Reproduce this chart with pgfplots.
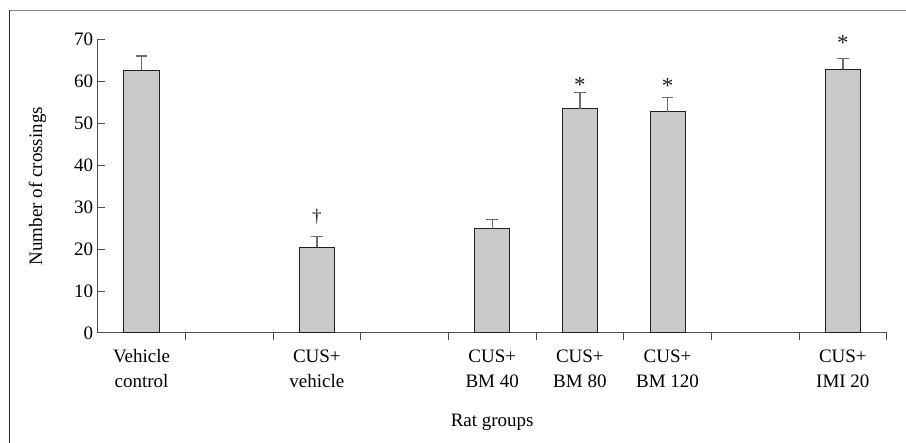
\documentclass[border=0pt]{standalone}
\usepackage{fontspec}
\setmainfont{Liberation Serif}
\usepackage{pgfplots}
\pgfplotsset{compat=1.18}
\definecolor{barfill}{HTML}{C8C9CB}
\definecolor{bardraw}{HTML}{231F20}
\definecolor{axisgray}{HTML}{4D4D4F}
\definecolor{errgray}{HTML}{6D6E71}
\definecolor{framegray}{HTML}{8A8A8A}
\newcommand{\chartfont}{\fontsize{19}{25}\selectfont}
\begin{document}
\begin{tikzpicture}
\useasboundingbox (-97.7pt,-110pt) rectangle (808.3pt,333pt);
\draw[framegray, line width=1.2pt] (-88.4pt,322.4pt) -- (808.3pt,322.4pt);
\draw[bardraw, line width=1pt] (-88.4pt,323pt) -- (-88.4pt,-110pt);
\begin{axis}[
  at={(0pt,0pt)}, anchor=south west,
  scale only axis,
  width=789pt, height=293.7pt,
  xmin=0, xmax=9, ymin=0, ymax=70,
  axis x line=bottom, axis y line=left,
  axis line style={axisgray, line width=1pt, -},
  every tick/.style={axisgray, line width=1pt},
  xtick={1,2,...,9}, xticklabels={},
  xtick align=outside,
  major tick length=7.5pt,
  extra x ticks={0.5,2.5,4.5,5.5,6.5,8.5},
  extra x tick labels={Vehicle\\control, CUS+\\vehicle, CUS+\\BM 40, CUS+\\BM 80, CUS+\\BM 120, CUS+\\IMI 20},
  extra x tick style={major tick length=0pt, xticklabel style={align=center, yshift=-13pt}},
  ytick={0,10,...,70},
  ytick align=inside,
  /pgf/number format/assume math mode=true,
  tick label style={font=\chartfont},
  yticklabel style={xshift=-1pt},
  label style={font=\chartfont},
  ylabel={Number of crossings},
  xlabel={Rat groups},
  ylabel style={at={(axis description cs:-0.0763,0.5)}, anchor=center, rotate=0},
  xlabel style={at={(axis description cs:0.5,-0.305)}, anchor=center},
  clip=false,
]
\addplot[ybar, bar width=0.4, fill=barfill, draw=bardraw, line width=1pt,
  error bars/.cd, y dir=plus, y explicit,
  error bar style={errgray, line width=1.3pt},
  error mark options={rotate=90, errgray, line width=1.3pt, mark size=5.7pt}]
  coordinates {
  (0.5,62.6) +- (0,3.4)
  (2.5,20.4) +- (0,2.55)
  (4.5,24.9) +- (0,2.1)
  (5.5,53.5) +- (0,3.8)
  (6.5,52.7) +- (0,3.4)
  (8.5,62.9) +- (0,2.6)
  };
\node[font=\chartfont, anchor=base, yshift=-5pt, text=bardraw] at (axis cs:2.5,27.6) {†};
\node[font=\fontsize{23}{25}\selectfont, anchor=base, yshift=-11.5pt, text=bardraw] at (axis cs:5.5,60.1) {*};
\node[font=\fontsize{23}{25}\selectfont, anchor=base, yshift=-11.5pt, text=bardraw] at (axis cs:6.5,59.8) {*};
\node[font=\fontsize{23}{25}\selectfont, anchor=base, yshift=-11.5pt, text=bardraw] at (axis cs:8.5,70.1) {*};
\end{axis}
\end{tikzpicture}
\end{document}
